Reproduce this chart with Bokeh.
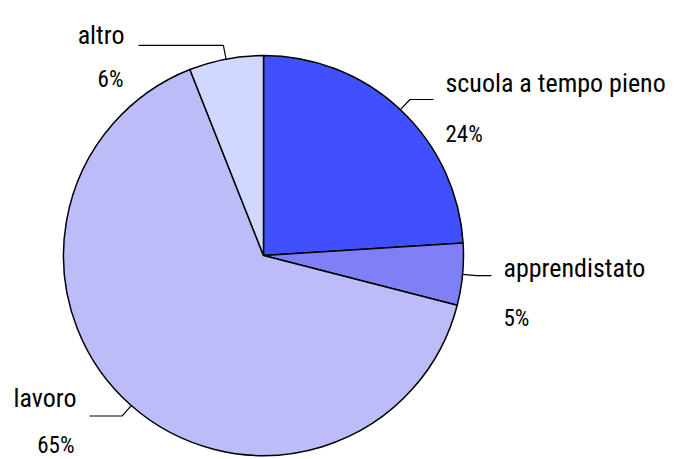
import numpy as np
from bokeh.plotting import figure
from bokeh.models import Range1d, ColumnDataSource
from bokeh.core.properties import value
from bokeh.embed import file_html
from bokeh.resources import INLINE

# data
categories = ["scuola a tempo pieno", "apprendistato", "lavoro", "altro"]
shares = [24, 5, 65, 6]
pct_labels = ["24%", "5%", "65%", "6%"]
colors = ["#4050FF", "#8080F6", "#BCBCF8", "#D0D8FF"]

W, H = 677, 459
p = figure(width=W, height=H, output_backend="svg", toolbar_location=None,
           x_range=Range1d(0, W), y_range=Range1d(0, H),
           min_border=0)
p.axis.visible = False
p.grid.visible = False
p.outline_line_color = None
p.background_fill_color = "white"

cx, cy, r = 263, 459 - 255, 200
vals = np.array(shares, dtype=float)
frac = vals / vals.sum()
ends = np.cumsum(frac) * 2 * np.pi
starts = ends - frac * 2 * np.pi
# clockwise from top
start_ang = np.pi / 2 - starts
end_ang = np.pi / 2 - ends
src = ColumnDataSource(dict(start=start_ang, end=end_ang, color=colors))
p.wedge(x=cx, y=cy, radius=r, start_angle="start", end_angle="end",
        direction="clock", fill_color="color", line_color="black", line_width=1.5,
        source=src)

mid = (start_ang + end_ang) / 2
# label layout (style)
font = value("Liberation Sans Narrow, Roboto Condensed, DejaVu Sans Condensed, sans-serif")
name_pos = [(445, 82), (503, 267), (76, 397), (124, 34)]
pct_pos = [(445, 134), (503, 318), (74, 445), (123, 79)]
align = ["left", "left", "right", "right"]
line_end_x = [433, 491, 89, 138]
for i in range(4):
    a = mid[i]
    x0, y0 = cx + r * np.cos(a), cy + r * np.sin(a)
    x1, y1 = cx + (r + 14) * np.cos(a), cy + (r + 14) * np.sin(a)
    p.line([x0, x1, line_end_x[i]], [y0, y1, y1], line_color="black", line_width=1.2)
    p.text(x=[name_pos[i][0]], y=[459 - name_pos[i][1]], text=[categories[i]],
           text_font=font, text_font_size="26px", text_align=align[i],
           text_baseline="alphabetic", text_color="black")
    p.text(x=[pct_pos[i][0]], y=[459 - pct_pos[i][1]], text=[pct_labels[i]],
           text_font=font, text_font_size="23px", text_align=align[i],
           text_baseline="alphabetic", text_color="black")

open("out.html", "w").write(file_html(p, INLINE))
